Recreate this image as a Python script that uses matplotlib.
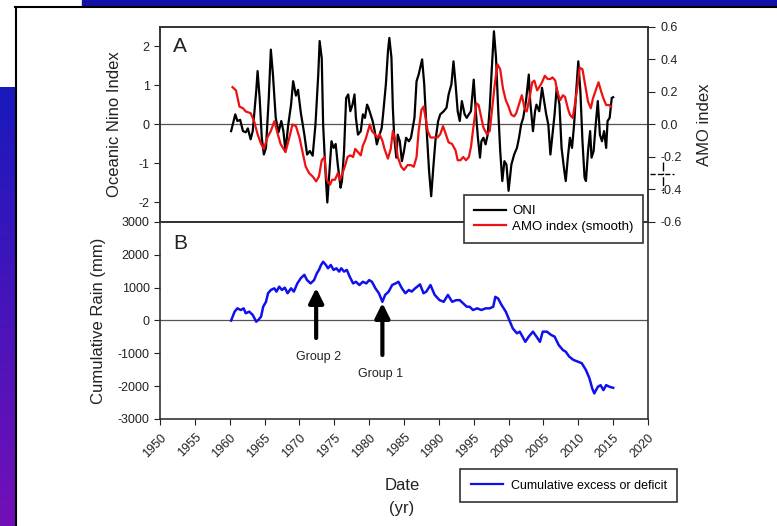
import numpy as np
import matplotlib
matplotlib.use("Agg")
import matplotlib.pyplot as plt
from matplotlib.lines import Line2D
from matplotlib.patches import Rectangle

plt.rcParams['font.family'] = ['Liberation Sans', 'DejaVu Sans']
plt.rcParams['axes.unicode_minus'] = False

# ONI (Oceanic Nino Index)
oni_year = [1960.2, 1960.8, 1961.1, 1961.5, 1961.9, 1962.3, 1962.6, 1963.0, 1963.3, 1963.8,
            1964.0, 1964.3, 1964.6, 1964.9, 1965.2, 1965.6, 1965.9, 1966.2, 1966.6, 1967.0,
            1967.4, 1967.7, 1968.0, 1968.4, 1968.8, 1969.1, 1969.5, 1969.8, 1970.2, 1970.7,
            1971.1, 1971.5, 1971.9, 1972.3, 1972.7, 1972.9, 1973.2, 1973.4, 1973.7, 1974.0,
            1974.3, 1974.6, 1974.9, 1975.2, 1975.5, 1975.9, 1976.1, 1976.4, 1976.7, 1977.0,
            1977.3, 1977.6, 1977.9, 1978.1, 1978.4, 1978.8, 1979.1, 1979.4, 1979.7, 1979.9,
            1980.2, 1980.5, 1980.8, 1981.1, 1981.5, 1981.8, 1982.0, 1982.4, 1982.7, 1982.9,
            1983.2, 1983.4, 1983.6, 1983.9, 1984.1, 1984.4, 1984.7, 1985.0, 1985.3, 1985.7,
            1986.0, 1986.5, 1986.8, 1987.1, 1987.6, 1987.9, 1988.2, 1988.6, 1988.9, 1989.2,
            1989.5, 1989.9, 1990.2, 1990.7, 1991.1, 1991.4, 1991.8, 1992.1, 1992.4, 1992.7,
            1993.0, 1993.3, 1993.7, 1994.0, 1994.3, 1994.6, 1995.0, 1995.3, 1995.6, 1995.9,
            1996.1, 1996.4, 1996.7, 1997.0, 1997.3, 1997.6, 1997.9, 1998.2, 1998.5, 1998.8,
            1999.1, 1999.4, 1999.7, 2000.0, 2000.4, 2000.8, 2001.2, 2001.5, 2001.8, 2002.1,
            2002.5, 2002.9, 2003.1, 2003.5, 2003.8, 2004.0, 2004.4, 2004.8, 2005.1, 2005.4,
            2005.7, 2006.0, 2006.3, 2006.6, 2006.9, 2007.3, 2007.6, 2008.0, 2008.2, 2008.5,
            2008.8, 2009.1, 2009.4, 2009.7, 2010.0, 2010.3, 2010.6, 2010.9, 2011.1, 2011.4,
            2011.7, 2011.9, 2012.2, 2012.5, 2012.8, 2013.1, 2013.4, 2013.7, 2014.0, 2014.2,
            2014.5, 2014.8, 2015.0]
oni_val = [-0.17, 0.26, 0.09, 0.12, -0.17, -0.2, -0.1, -0.38, -0.17, 0.85,
           1.37, 0.66, -0.34, -0.77, -0.6, 0.67, 1.92, 1.28, 0.17, -0.2,
           0.09, -0.17, -0.68, 0.0, 0.51, 1.11, 0.74, 0.89, 0.3, -0.25,
           -0.77, -0.68, -0.8, 0.0, 1.28, 2.14, 1.7, 0.0, -1.1, -2.0,
           -1.2, -0.43, -0.6, -0.5, -1.03, -1.62, -1.45, -0.68, 0.68, 0.77,
           0.34, 0.5, 0.77, 0.17, -0.26, -0.17, 0.26, 0.17, 0.51, 0.43,
           0.26, 0.09, -0.17, -0.51, -0.26, -0.09, 0.26, 1.03, 1.88, 2.22,
           1.71, 0.43, -0.34, -0.85, -0.26, -0.43, -0.94, -0.68, -0.34, -0.43,
           -0.34, 0.17, 1.11, 1.28, 1.67, 1.03, 0.0, -1.2, -1.84, -1.11,
           -0.43, 0.09, 0.26, 0.34, 0.43, 0.77, 1.03, 1.62, 1.03, 0.34,
           0.09, 0.6, 0.26, 0.17, 0.26, 0.34, 1.15, 0.34, -0.34, -0.85,
           -0.43, -0.34, -0.51, -0.26, 0.43, 1.45, 2.39, 1.71, 0.43, -0.68,
           -1.45, -0.94, -1.03, -1.7, -1.03, -0.77, -0.6, -0.34, 0.0, 0.17,
           0.6, 1.28, 0.6, -0.17, 0.34, 0.51, 0.34, 0.94, 0.6, 0.26,
           0.0, -0.77, -0.26, 0.26, 0.94, 0.51, -0.6, -1.2, -1.45, -0.85,
           -0.34, -0.6, 0.0, 0.85, 1.62, 0.85, -0.43, -1.36, -1.45, -0.68,
           -0.17, -0.85, -0.68, 0.0, 0.6, -0.26, -0.43, -0.17, -0.6, 0.09,
           0.17, 0.68, 0.7]

# AMO index (smooth)
amo_year = [1960.4, 1960.9, 1961.4, 1961.9, 1962.3, 1963.0, 1963.5, 1964.0, 1964.5, 1964.9,
            1965.4, 1965.9, 1966.4, 1966.9, 1967.3, 1968.0, 1968.5, 1969.0, 1969.5, 1970.0,
            1970.4, 1970.9, 1971.4, 1971.9, 1972.4, 1972.8, 1973.2, 1973.6, 1973.9, 1974.4,
            1974.7, 1975.1, 1975.5, 1975.8, 1976.1, 1976.5, 1976.9, 1977.3, 1977.7, 1978.0,
            1978.4, 1978.8, 1979.1, 1979.5, 1979.9, 1980.1, 1980.4, 1980.8, 1981.2, 1981.5,
            1981.9, 1982.2, 1982.7, 1983.1, 1983.4, 1983.8, 1984.1, 1984.6, 1985.0, 1985.5,
            1986.0, 1986.4, 1986.8, 1987.1, 1987.5, 1987.8, 1988.1, 1988.4, 1988.8, 1989.3,
            1989.8, 1990.2, 1990.6, 1991.0, 1991.4, 1991.9, 1992.4, 1992.7, 1993.1, 1993.5,
            1993.9, 1994.3, 1994.6, 1995.0, 1995.4, 1995.7, 1996.0, 1996.4, 1996.9, 1997.3,
            1997.6, 1998.0, 1998.4, 1998.8, 1999.2, 1999.6, 2000.0, 2000.4, 2000.8, 2001.1,
            2001.6, 2001.9, 2002.3, 2002.6, 2003.0, 2003.4, 2003.7, 2004.1, 2004.4, 2004.8,
            2005.2, 2005.6, 2006.0, 2006.3, 2006.7, 2007.0, 2007.4, 2007.8, 2008.1, 2008.5,
            2008.8, 2009.2, 2009.5, 2009.9, 2010.2, 2010.6, 2011.0, 2011.4, 2011.8, 2012.1,
            2012.5, 2012.9, 2013.3, 2013.7, 2014.0, 2014.4, 2014.7]
amo_val = [0.23, 0.21, 0.11, 0.10, 0.08, 0.07, 0.02, -0.06, -0.12, -0.15,
           -0.08, -0.04, 0.02, -0.06, -0.12, -0.17, -0.09, 0.0, -0.01, -0.08,
           -0.16, -0.26, -0.30, -0.32, -0.35, -0.32, -0.22, -0.20, -0.34, -0.37,
           -0.34, -0.34, -0.30, -0.34, -0.31, -0.26, -0.20, -0.19, -0.20, -0.15,
           -0.17, -0.19, -0.13, -0.09, -0.03, 0.0, -0.04, -0.06, -0.08, -0.06,
           -0.10, -0.15, -0.21, -0.15, -0.04, -0.10, -0.20, -0.26, -0.28, -0.25,
           -0.25, -0.26, -0.20, -0.04, 0.09, 0.11, 0.04, -0.04, -0.08, -0.08,
           -0.08, -0.06, -0.01, -0.06, -0.11, -0.12, -0.16, -0.22, -0.22, -0.20,
           -0.22, -0.20, -0.14, 0.0, 0.13, 0.12, 0.06, -0.02, -0.06, -0.04,
           0.08, 0.24, 0.37, 0.34, 0.22, 0.15, 0.11, 0.06, 0.05, 0.07,
           0.14, 0.18, 0.10, 0.08, 0.16, 0.26, 0.27, 0.21, 0.23, 0.26,
           0.30, 0.28, 0.28, 0.29, 0.27, 0.20, 0.15, 0.18, 0.17, 0.10,
           0.06, 0.04, 0.12, 0.24, 0.35, 0.34, 0.24, 0.14, 0.10, 0.16,
           0.21, 0.26, 0.20, 0.15, 0.12, 0.12, 0.11]

# cumulative rain excess / deficit (mm)
rain_year = [1960.2, 1960.7, 1961.1, 1961.6, 1962.0, 1962.3, 1962.8, 1963.3, 1963.8, 1964.1,
             1964.5, 1964.8, 1965.2, 1965.5, 1965.9, 1966.4, 1966.7, 1967.1, 1967.5, 1967.9,
             1968.3, 1968.8, 1969.2, 1969.7, 1970.2, 1970.7, 1971.1, 1971.6, 1972.1, 1972.5,
             1972.8, 1973.1, 1973.4, 1973.8, 1974.1, 1974.5, 1974.9, 1975.3, 1975.7, 1976.0,
             1976.4, 1976.8, 1977.2, 1977.7, 1978.1, 1978.6, 1979.1, 1979.6, 1980.0, 1980.4,
             1980.9, 1981.4, 1981.9, 1982.3, 1982.8, 1983.3, 1983.8, 1984.2, 1984.7, 1985.2,
             1985.7, 1986.1, 1986.6, 1987.3, 1987.8, 1988.2, 1988.8, 1989.4, 1990.1, 1990.7,
             1991.3, 1991.9, 1992.5, 1993.0, 1993.5, 1994.0, 1994.4, 1994.9, 1995.5, 1996.1,
             1996.7, 1997.3, 1997.8, 1998.1, 1998.5, 1999.0, 1999.6, 2000.1, 2000.6, 2001.2,
             2001.6, 2002.0, 2002.4, 2002.9, 2003.5, 2004.0, 2004.5, 2004.9, 2005.5, 2006.1,
             2006.6, 2007.2, 2007.8, 2008.2, 2008.7, 2009.3, 2009.9, 2010.5, 2011.1, 2011.6,
             2012.0, 2012.3, 2012.8, 2013.2, 2013.6, 2014.0, 2014.5, 2015.0]
rain_val = [0, 270, 370, 320, 370, 220, 270, 170, -35, 15,
            120, 420, 570, 830, 930, 980, 880, 1030, 930, 1000,
            830, 980, 880, 1130, 1290, 1390, 1230, 1130, 1230, 1440,
            1540, 1690, 1790, 1690, 1590, 1690, 1540, 1590, 1490, 1590,
            1490, 1540, 1340, 1130, 1180, 1080, 1180, 1130, 1230, 1180,
            980, 830, 570, 780, 880, 1080, 1130, 1180, 980, 830,
            930, 880, 980, 1100, 830, 880, 1080, 780, 620, 570,
            780, 570, 620, 620, 520, 420, 420, 320, 370, 320,
            370, 370, 420, 720, 670, 470, 270, 15, -240, -390,
            -340, -490, -650, -490, -340, -490, -650, -340, -340, -440,
            -490, -750, -900, -950, -1100, -1200, -1250, -1300, -1510, -1760,
            -2070, -2220, -2020, -1970, -2120, -1970, -2020, -2050]

W, H = 777, 526
fig = plt.figure(figsize=(W / 100, H / 100), dpi=100)
fig.patch.set_facecolor('white')


def fbox(x0, y0, x1, y1):
    # pixel box (top-left origin) -> figure fraction [left, bottom, width, height]
    return [x0 / W, 1 - y1 / H, (x1 - x0) / W, (y1 - y0) / H]


# slide decoration: gradient strip on the left, blue bar at the top
bg = fig.add_axes(fbox(0, 87, 15, 526))
grad = np.linspace(0, 1, 100)[:, None]
top_c = np.array([0.10, 0.10, 0.74])
bot_c = np.array([0.45, 0.06, 0.72])
img = top_c[None, None, :] * (1 - grad[:, :, None]) + bot_c[None, None, :] * grad[:, :, None]
bg.imshow(img, aspect='auto', extent=[0, 1, 0, 1])
bg.axis('off')
fig.add_artist(Rectangle((82 / W, 1 - 6 / H), 1 - 82 / W, 6 / H,
                         transform=fig.transFigure, color='#1212a8', zorder=0))
fig.add_artist(Line2D([15 / W, 1], [1 - 7 / H, 1 - 7 / H], transform=fig.transFigure,
                      color='black', lw=1.5))
fig.add_artist(Line2D([15.5 / W, 15.5 / W], [0, 1 - 7 / H], transform=fig.transFigure,
                      color='black', lw=1.5))

spine_c = '#333333'
txt_c = '#222222'
tick_fs = 9
axA = fig.add_axes(fbox(160, 27, 648, 222))
axB = fig.add_axes(fbox(160, 222, 648, 419))

# panel A
axA.plot(oni_year, oni_val, color='black', lw=1.6)
axA.axhline(0, color='#555555', lw=0.9, zorder=0)
axA.set_xlim(1950, 2020)
axA.set_ylim(-2.5, 2.5)
axA.set_yticks([-2, -1, 0, 1, 2])
axA.set_xticks([])
axA.tick_params(axis='y', direction='out', length=4, labelsize=tick_fs, colors=txt_c)
axA.set_ylabel('Oceanic Nino Index', fontsize=12, color=txt_c, labelpad=12)
axA.text(0.027, 0.9, 'A', transform=axA.transAxes, fontsize=15, color=txt_c,
         va='center', ha='left')

axA2 = axA.twinx()
axA2.plot(amo_year, amo_val, color='#ee1111', lw=1.6)
axA2.set_ylim(-0.6, 0.6)
axA2.set_yticks([0.6, 0.4, 0.2, 0.0, -0.2, -0.4, -0.6])
axA2.set_yticklabels(['0.6', '0.4', '0.2', '0.0', '-0.2', '-0.4', '-0.6'])
axA2.tick_params(axis='y', direction='out', length=5, pad=4, labelsize=tick_fs, colors=txt_c)
axA2.set_ylabel('AMO index', fontsize=12, color=txt_c, labelpad=11)

for ax in (axA, axA2, axB):
    for s in ax.spines.values():
        s.set_color(spine_c)
        s.set_linewidth(1.2)

# panel B
axB.plot(rain_year, rain_val, color='#1010ee', lw=1.8)
axB.axhline(0, color='#555555', lw=0.9, zorder=0)
axB.set_xlim(1950, 2020)
axB.set_ylim(-3000, 3000)
axB.set_yticks(range(-3000, 3001, 1000))
axB.set_xticks(range(1950, 2021, 5))
axB.set_xticklabels([str(y) for y in range(1950, 2021, 5)], rotation=45, ha='right',
                    va='top', rotation_mode='anchor')
axB.tick_params(axis='both', direction='out', length=4, labelsize=tick_fs, colors=txt_c)
axB.tick_params(axis='x', pad=5, labelsize=9)
axB.set_ylabel('Cumulative Rain (mm)', fontsize=12, color=txt_c, labelpad=8)
axB.text(0.027, 0.89, 'B', transform=axB.transAxes, fontsize=15, color=txt_c,
         va='center', ha='left')

arrow = dict(arrowstyle='-|>', color='black', lw=3, mutation_scale=22, shrinkA=0, shrinkB=0)
axB.annotate('', xy=(1972.4, 990), xytext=(1972.4, -533), arrowprops=arrow)
axB.annotate('', xy=(1981.9, 533), xytext=(1981.9, -1050), arrowprops=arrow)
axB.text(1972.8, -1100, 'Group 2', fontsize=9, ha='center', va='center', color=txt_c)
axB.text(1981.6, -1620, 'Group 1', fontsize=9, ha='center', va='center', color=txt_c)

fig.text(402 / W, 1 - 485 / H, 'Date', fontsize=12, ha='center', va='center', color=txt_c)
fig.text(402 / W, 1 - 508 / H, '(yr)', fontsize=12, ha='center', va='center', color=txt_c)

# legends
hA = [Line2D([], [], color='black', lw=1.6), Line2D([], [], color='#ee1111', lw=1.6)]
legA = fig.legend(hA, ['ONI', 'AMO index (smooth)'], loc='upper left',
                  bbox_to_anchor=(464 / W, 1 - 195 / H), borderaxespad=0, fontsize=9.5,
                  frameon=True, fancybox=False, framealpha=1, edgecolor=spine_c,
                  handlelength=2.4, handletextpad=0.5, labelspacing=0.25, borderpad=0.75)
legA.get_frame().set_linewidth(1.2)

hB = [Line2D([], [], color='#1010ee', lw=1.6)]
legB = fig.legend(hB, ['Cumulative excess or deficit'], loc='upper left',
                  bbox_to_anchor=(460 / W, 1 - 469 / H), borderaxespad=0, fontsize=9,
                  frameon=True, fancybox=False, framealpha=1, edgecolor=spine_c,
                  handlelength=2.6, handletextpad=0.6, borderpad=0.85)
legB.get_frame().set_linewidth(1.2)

# small dashed mark next to the right axis
fig.add_artist(Line2D([663 / W, 663 / W], [1 - 162 / H, 1 - 193 / H], transform=fig.transFigure,
                      color='black', lw=1, ls='-.'))
fig.add_artist(Line2D([650 / W, 674 / W], [1 - 174 / H, 1 - 174 / H], transform=fig.transFigure,
                      color='black', lw=1, ls='--'))

fig.savefig('out.png', dpi=100)
